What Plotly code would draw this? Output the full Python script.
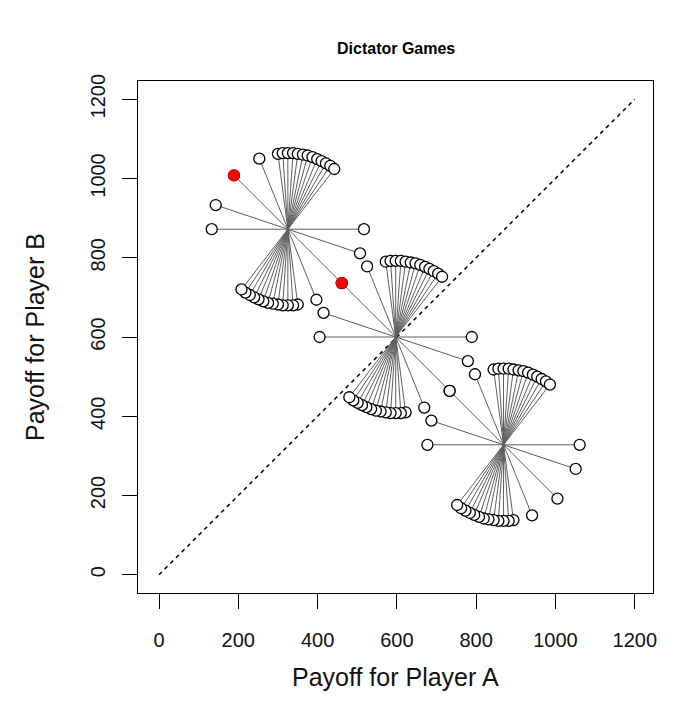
import plotly.graph_objects as go

# ---- data ----
centers_x = [325, 597, 869]          # Player A payoff at each star centre
centers_y = [872, 600, 328]          # Player B payoff at each star centre
# offsets of one end of each game line from its centre (other end is mirrored)
offset_dx = [-25, -13, 0, 13, 25, 38, 50, 62, 74, 85, 96, 107, 117, -72, -136, -182, -192]
offset_dy = [190, 192, 192, 192, 190, 188, 186, 182, 177, 172, 166, 160, 152, 178, 136, 61, 0]
chosen_center = 0                     # highlighted (red) game
chosen_game = 14
diag_x = [0, 1200]
diag_y = [0, 1200]
tick_vals = [0, 200, 400, 600, 800, 1000, 1200]
tick_text = ["0", "200", "400", "600", "800", "1000", "1200"]

FONT = "Liberation Sans, Arial, sans-serif"

seg_x, seg_y, pt_x, pt_y = [], [], [], []
for cx, cy in zip(centers_x, centers_y):
    for dx, dy in zip(offset_dx, offset_dy):
        x1, y1, x2, y2 = cx + dx, cy + dy, cx - dx, cy - dy
        seg_x += [x1, x2, None]
        seg_y += [y1, y2, None]
        pt_x += [x1, x2]
        pt_y += [y1, y2]

cx, cy = centers_x[chosen_center], centers_y[chosen_center]
dx, dy = offset_dx[chosen_game], offset_dy[chosen_game]
red_x = [cx + dx, cx - dx]
red_y = [cy + dy, cy - dy]

fig = go.Figure()
fig.add_trace(go.Scatter(x=diag_x, y=diag_y, mode="lines",
                         line=dict(color="black", width=1.5, dash="4px,4px"),
                         hoverinfo="skip", showlegend=False))
fig.add_trace(go.Scatter(x=seg_x, y=seg_y, mode="lines",
                         line=dict(color="#5e5e5e", width=1),
                         hoverinfo="skip", showlegend=False))
fig.add_trace(go.Scatter(x=pt_x, y=pt_y, mode="markers",
                         marker=dict(symbol="circle", size=11, color="white",
                                     line=dict(color="black", width=1.3)),
                         showlegend=False))
fig.add_trace(go.Scatter(x=red_x, y=red_y, mode="markers",
                         marker=dict(symbol="circle", size=12, color="#ff0000",
                                     line=dict(color="#ff0000", width=0)),
                         showlegend=False))

axis_common = dict(
    tickmode="array", tickvals=tick_vals, ticktext=tick_text,
    ticks="outside", ticklen=15, tickwidth=1.3, tickcolor="black",
    showline=True, linecolor="black", linewidth=1.3, mirror=True,
    showgrid=False, zeroline=False,
    tickfont=dict(family=FONT, size=20, color="#111111"),
)

fig.update_layout(
    width=674, height=716,
    margin=dict(l=138, r=21, t=81, b=123),
    paper_bgcolor="white", plot_bgcolor="white",
    xaxis=dict(range=[-53, 1246], ticklabelstandoff=14, **axis_common),
    yaxis=dict(range=[-46, 1246], tickangle=-90, ticklabelstandoff=9, **axis_common),
    annotations=[
        dict(text="<b>Dictator Games</b>", x=0.5, y=1, xref="paper", yref="paper",
             xanchor="center", yanchor="middle", yshift=33, showarrow=False,
             font=dict(family=FONT, size=16, color="black")),
        dict(text="Payoff for Player A", x=0.5, y=0, xref="paper", yref="paper",
             xanchor="center", yanchor="middle", yshift=-84, showarrow=False,
             font=dict(family=FONT, size=25, color="#111111")),
        dict(text="Payoff for Player B", x=0, y=0.5, xref="paper", yref="paper",
             xanchor="center", yanchor="middle", xshift=-103, textangle=-90,
             showarrow=False, font=dict(family=FONT, size=25, color="#111111")),
    ],
)

fig.write_html("out.html")
